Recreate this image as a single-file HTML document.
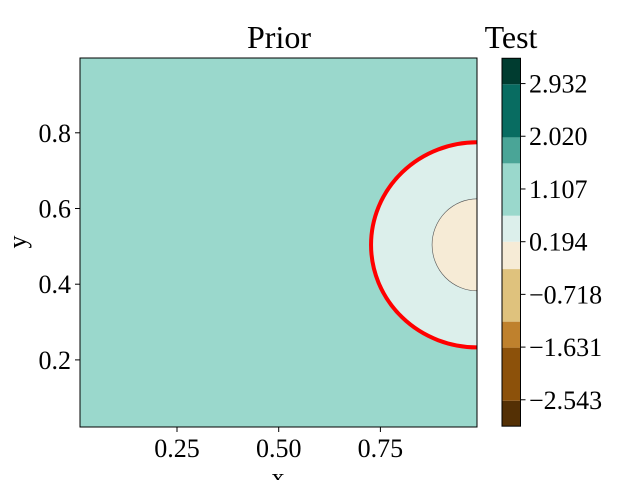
<!DOCTYPE html>
<html><head><meta charset="utf-8"><style>
body{margin:0;background:#fff;}
svg{display:block;font-family:"Liberation Serif","DejaVu Serif",serif;}
</style></head><body>
<svg width="640" height="480" viewBox="0 0 640 480">
<defs><clipPath id="ax"><rect x="80" y="58" width="397" height="369"/></clipPath></defs>
<g id="plot"></g>
<g id="cbar"></g>
<text x="279" y="48" font-size="32" text-anchor="middle">Prior</text>
<text x="511" y="48" font-size="32" text-anchor="middle">Test</text>
<text x="278" y="486" font-size="26" text-anchor="middle">x</text>
<text x="26" y="242" font-size="26" text-anchor="middle" transform="rotate(-90 26 242)">y</text>
</svg>
<script>
const xTicks=[0.25,0.5,0.75];
const xTickLabels=["0.25","0.50","0.75"];
const yTicks=[0.2,0.4,0.6,0.8];
const yTickLabels=["0.2","0.4","0.6","0.8"];
const levels=[-3.0,-2.56,-1.64,-1.19,-0.28,0.194,0.644,1.55,2.0,2.92,3.37];
const levelColors=["#543005","#8c510a","#bf812d","#dfc27d","#f6ebd6","#dcefeb","#9ad8cc","#4aa597","#086c61","#003c30"];
const cbTicks=[-2.543,-1.631,-0.718,0.194,1.107,2.020,2.932];
const cbTickLabels=["\u22122.543","\u22121.631","\u22120.718","0.194","1.107","2.020","2.932"];
const outerCircle={cx:0.988,cy:0.504,rx:0.261,ry:0.271};
const innerCircle={cx:0.988,cy:0.504,rx:0.111,ry:0.1215};
const NS="http://www.w3.org/2000/svg";
const X=v=>75.3+v*406.8;
const Y=v=>435.6-v*378.5;
const CB=v=>241.7-(v-0.194)/0.9125*52.7;
function mk(tag,attrs,parent){const e=document.createElementNS(NS,tag);for(const k in attrs)e.setAttribute(k,attrs[k]);parent.appendChild(e);return e;}
const plot=document.getElementById('plot');
const bg=mk('rect',{x:80,y:58,width:397,height:369,fill:"#9ad8cc"},plot);


const g=mk('g',{'clip-path':'url(#ax)'},plot);
const oc=mk('ellipse',{cx:X(outerCircle.cx),cy:Y(outerCircle.cy),rx:outerCircle.rx*406.8,ry:outerCircle.ry*378.5,fill:"#dcefeb",stroke:"#f00","stroke-width":4},g);


const ic=mk('ellipse',{cx:X(innerCircle.cx),cy:Y(innerCircle.cy),rx:innerCircle.rx*406.8,ry:innerCircle.ry*378.5,fill:"#f6ebd6",stroke:"#555","stroke-width":0.6},g);


const fr=mk('rect',{x:80,y:58,width:397,height:369,fill:"none",stroke:"#000","stroke-width":1},plot);


xTicks.forEach((t,i)=>{
 mk('line',{x1:X(t),x2:X(t),y1:427,y2:432,stroke:"#000"},plot);
 const tx=mk('text',{x:X(t),y:457,'font-size':26,'text-anchor':'middle'},plot);
 tx.textContent=xTickLabels[i];
 
 
});
yTicks.forEach((t,i)=>{
 mk('line',{x1:75,x2:80,y1:Y(t),y2:Y(t),stroke:"#000"},plot);
 const tx=mk('text',{x:71,y:Y(t)+9,'font-size':26,'text-anchor':'end'},plot);
 tx.textContent=yTickLabels[i];
 
 
});
const cb=document.getElementById('cbar');
levelColors.forEach((c,i)=>{
 const r=mk('rect',{x:502,y:CB(levels[i+1]),width:18.5,height:CB(levels[i])-CB(levels[i+1]),fill:c},cb);
 
 
});
mk('rect',{x:502,y:CB(levels[levels.length-1]),width:18.5,height:CB(levels[0])-CB(levels[levels.length-1]),fill:"none",stroke:"#000"},cb);
cbTicks.forEach((t,i)=>{
 mk('line',{x1:520.5,x2:525.5,y1:CB(t),y2:CB(t),stroke:"#000"},cb);
 const tx=mk('text',{x:529,y:CB(t)+9,'font-size':26},cb);
 tx.textContent=cbTickLabels[i];
 
 
});
</script>
</body></html>
